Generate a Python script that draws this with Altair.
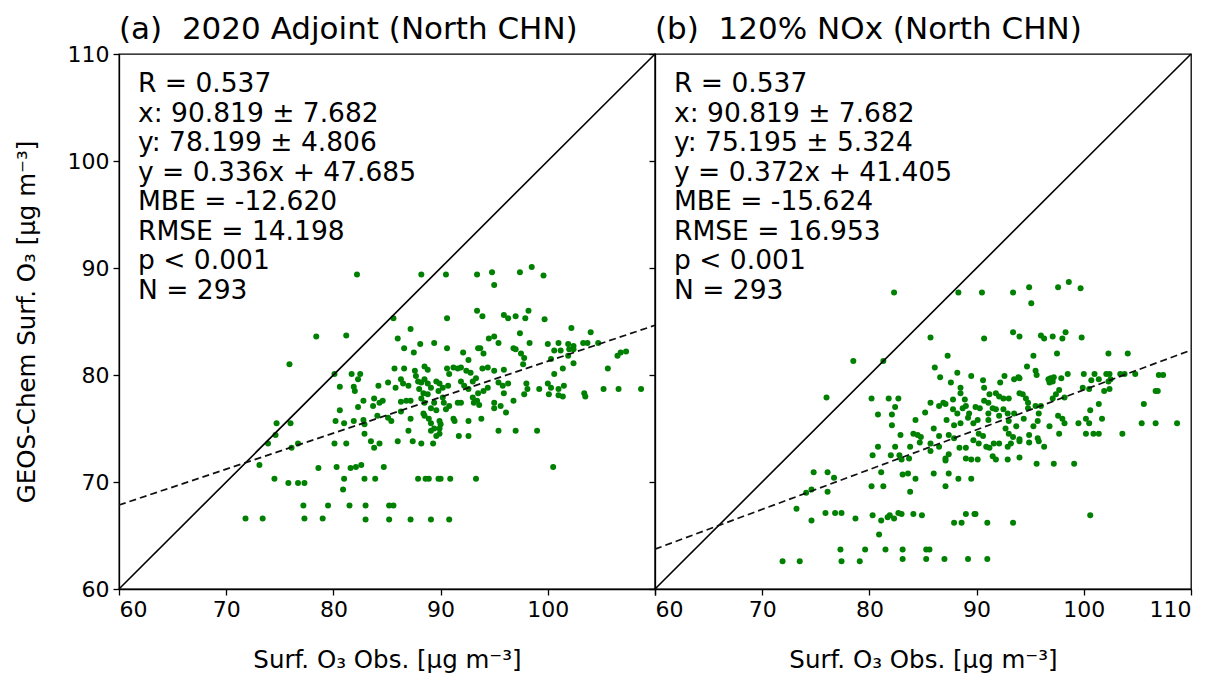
import altair as alt
import pandas as pd

FONT = "DejaVu Sans"

PTS_A = [
    (82.2, 89.4), (88.2, 89.4), (85.6, 85.3), (78.4, 83.6), (75.9, 81.0),
    (90.5, 89.4), (93.4, 89.4), (94.8, 89.6), (95.0, 88.4), (97.4, 89.6), (98.5, 90.1), (99.6, 89.3),
    (90.6, 85.3), (93.4, 86.0), (93.9, 85.5), (95.9, 85.6), (96.3, 85.3), (97.0, 85.5), (97.9, 85.3),
    (98.2, 86.0), (99.7, 85.2),
    (102.2, 84.4), (104.0, 84.0), (101.9, 82.9), (102.4, 82.7), (103.3, 83.0), (103.7, 83.0), (104.7, 83.0),
    (101.2, 82.3), (102.0, 82.4), (102.4, 82.4), (101.9, 81.8), (102.4, 81.1), (106.5, 81.8), (106.8, 82.1),
    (107.3, 82.2), (105.6, 80.6), (101.4, 80.6), (101.5, 79.0), (103.4, 78.3), (105.2, 78.7), (106.6, 78.7),
    (108.7, 78.7),
    (74.7, 75.5), (76.0, 75.5), (74.6, 74.4), (73.9, 73.6), (76.1, 73.2), (76.7, 73.6), (73.1, 71.6),
    (74.5, 70.3), (75.8, 69.9), (76.7, 69.9), (77.3, 69.9), (78.6, 71.3), (77.2, 67.8), (71.8, 66.6),
    (73.4, 66.6), (77.3, 66.6),
    (83.5, 73.8), (83.8, 73.2), (84.3, 73.6), (80.1, 73.6), (81.2, 73.6), (86.0, 73.8), (87.4, 73.8),
    (88.2, 73.6), (89.3, 73.6), (80.3, 71.4), (81.6, 71.3), (82.1, 71.4), (82.6, 71.6), (84.7, 71.4),
    (81.0, 70.3), (82.9, 70.3), (83.9, 70.3), (80.9, 69.3), (87.9, 70.3), (88.6, 70.3), (88.9, 70.3),
    (89.8, 70.3), (79.5, 67.8), (81.5, 67.8), (83.0, 67.8), (85.2, 67.8), (85.6, 67.8), (79.0, 66.6),
    (83.0, 66.5), (85.2, 66.5), (87.2, 66.5), (89.1, 66.5),
    (101.4, 78.0), (103.5, 78.0), (100.5, 71.4), (90.0, 70.3), (90.9, 70.3), (93.3, 70.3), (90.8, 66.5),
    (81.2, 83.7), (87.2, 84.3), (86.0, 83.4), (86.6, 82.5), (88.1, 82.9), (89.4, 83.0), (87.5, 82.1),
    (90.6, 82.5), (93.5, 82.5), (93.7, 82.5), (92.1, 82.1), (94.0, 82.0), (95.0, 83.6), (94.5, 83.4),
    (95.4, 83.0), (97.4, 83.9), (96.8, 82.5), (97.0, 82.4), (98.3, 83.0), (97.5, 82.0), (97.8, 81.6),
    (100.0, 82.9), (101.0, 83.0), (100.6, 82.3),
    (80.1, 80.1), (81.7, 80.1), (82.5, 80.1), (82.3, 79.6), (85.7, 80.6), (86.6, 80.6), (87.6, 80.4),
    (88.5, 80.8), (88.8, 80.5), (90.6, 80.6), (91.2, 80.7), (91.6, 80.6), (91.9, 80.7), (92.4, 80.4),
    (92.8, 80.2), (92.6, 81.4), (93.9, 80.6), (94.4, 80.7), (95.0, 80.4), (95.9, 80.5), (97.7, 81.0),
    (100.3, 81.5), (100.6, 80.1),
    (80.6, 78.9), (81.9, 78.9), (82.0, 78.5), (84.2, 79.0), (85.1, 79.3), (85.8, 78.8), (86.3, 79.6),
    (86.5, 79.2), (87.0, 79.0), (87.7, 79.9), (87.9, 79.4), (88.2, 79.3), (88.5, 79.6), (88.8, 79.2),
    (89.1, 78.8), (89.6, 79.4), (89.9, 79.2), (88.0, 78.7), (88.4, 78.3), (88.8, 78.2), (89.8, 78.5),
    (90.2, 78.8), (90.7, 79.0), (90.8, 80.1), (91.9, 79.4), (92.2, 79.0), (92.6, 78.7), (93.0, 79.4),
    (93.3, 79.7), (93.5, 78.3), (94.0, 78.5), (94.4, 78.8), (95.4, 79.3), (95.8, 79.0), (95.9, 78.3),
    (96.3, 79.2), (98.0, 79.2), (98.1, 78.7), (97.8, 78.2), (99.2, 78.7), (100.0, 79.2), (100.3, 78.8),
    (101.0, 78.7), (100.1, 78.2), (101.0, 78.1),
    (80.6, 76.7), (82.8, 77.6), (82.3, 77.0), (83.8, 77.8), (84.3, 77.4), (84.6, 77.6), (83.7, 77.1),
    (86.3, 77.5), (86.8, 77.6), (87.2, 77.6), (86.3, 76.6), (88.2, 77.8), (88.5, 77.4), (89.1, 76.9),
    (89.4, 77.4), (89.6, 76.7), (90.2, 77.9), (90.3, 77.4), (90.5, 76.8), (90.8, 77.1), (91.6, 77.4),
    (91.9, 77.4), (93.0, 77.9), (93.1, 77.4), (93.4, 77.6), (93.6, 77.2), (95.0, 77.4), (95.0, 76.9),
    (95.6, 77.1), (96.8, 77.6), (96.1, 76.5),
    (80.2, 75.7), (81.0, 75.5), (81.9, 75.7), (82.8, 75.8), (82.9, 75.4), (84.1, 76.2), (85.1, 76.0),
    (85.4, 75.7), (87.2, 75.9), (88.4, 76.4), (88.5, 76.2), (88.9, 75.9), (89.1, 75.5), (89.9, 75.7),
    (90.0, 75.4), (91.2, 75.9), (91.3, 75.7), (92.6, 75.7), (93.8, 75.9),
    (82.9, 74.5), (87.0, 74.8), (89.1, 74.8), (89.4, 75.0), (89.9, 75.0), (89.6, 74.3), (89.9, 74.5),
    (91.7, 74.3), (92.6, 74.3), (95.4, 74.8), (97.0, 74.8), (99.0, 74.8),
]

# Panel (b): 120% NOx run
PTS_B = [
    (82.3, 87.7), (88.3, 87.7), (85.7, 83.5), (87.3, 81.8), (78.5, 81.3), (81.3, 81.3), (86.1, 80.7),
    (88.2, 80.2), (86.6, 79.8), (89.5, 79.9), (87.6, 79.3), (88.5, 78.8), (88.5, 78.3), (76.0, 77.9),
    (80.2, 77.8), (81.8, 77.8), (82.7, 77.8), (82.4, 77.0), (80.8, 76.3), (82.1, 76.3), (82.1, 75.3),
    (84.3, 75.8), (85.2, 76.5), (85.7, 77.4), (86.5, 77.1), (86.9, 77.4), (87.1, 77.3), (87.8, 77.7),
    (88.9, 77.7), (88.7, 76.9), (88.2, 76.4), (89.3, 76.4), (89.2, 76.0), (87.2, 75.8), (86.0, 75.0),
    (87.9, 75.3), (88.5, 75.5), (89.7, 75.5), (82.9, 74.4), (84.1, 74.5), (84.5, 74.4), (84.8, 74.2),
    (86.5, 74.3), (87.4, 74.4), (87.8, 76.8), (89.0, 77.1),
    (90.5, 87.7), (93.4, 87.7), (94.9, 88.2), (95.1, 86.7), (97.6, 88.2), (98.6, 88.7), (99.7, 88.1),
    (90.7, 83.4), (93.4, 84.0), (94.0, 83.6), (96.0, 83.7), (96.3, 83.4), (97.1, 83.6), (98.0, 83.4),
    (98.3, 84.0), (99.8, 83.5), (102.3, 82.0), (104.1, 82.0), (97.5, 82.0), (95.3, 81.8), (94.7, 80.8),
    (95.5, 80.4), (95.6, 80.0), (92.6, 79.9), (90.6, 79.5), (92.2, 79.3), (93.5, 79.6), (93.9, 79.8),
    (94.0, 79.7), (90.7, 78.8), (91.2, 78.2), (91.8, 78.3), (92.1, 78.0), (92.5, 77.8), (93.0, 77.8),
    (94.0, 78.3), (94.3, 78.2), (94.6, 77.8), (94.8, 77.4), (96.7, 79.6), (96.9, 79.7), (97.2, 79.8),
    (97.9, 79.7), (96.8, 79.3), (97.1, 79.4), (97.7, 78.6), (97.4, 78.2), (98.5, 80.1), (100.0, 80.1),
    (100.7, 79.5), (101.0, 80.1), (101.4, 79.6), (102.1, 80.1), (102.4, 80.1), (102.5, 79.6), (102.3, 79.4),
    (103.4, 80.1), (103.8, 80.1), (104.8, 80.1), (107.0, 80.0), (107.4, 80.0), (106.7, 78.5), (106.9, 78.5),
    (99.9, 78.8), (100.5, 78.7), (102.4, 78.7), (101.9, 78.5), (98.2, 77.9), (101.4, 77.3), (100.6, 76.7),
    (105.6, 77.3), (89.9, 77.0), (90.3, 76.9), (91.5, 76.9), (91.8, 76.8), (92.5, 76.8), (94.8, 76.9),
    (95.5, 77.1), (96.0, 77.1), (93.5, 76.4), (92.9, 76.4), (92.1, 76.2), (91.1, 75.8), (90.1, 75.8),
    (93.0, 75.7), (94.4, 75.9), (95.7, 75.7), (97.6, 76.2), (98.0, 75.9), (98.2, 75.5), (99.5, 75.5),
    (100.2, 75.9), (100.5, 75.5), (101.7, 75.9), (105.4, 75.5), (106.7, 75.5), (108.7, 75.5), (93.7, 75.2),
    (95.3, 75.2), (96.8, 75.2), (90.2, 74.5), (90.6, 74.3), (93.0, 74.5), (93.4, 74.2), (94.0, 74.0),
    (94.9, 74.4), (95.7, 74.1), (97.7, 74.5), (100.2, 74.5), (100.9, 74.5), (101.4, 74.5), (103.6, 74.5),
    (90.7, 77.6), (91.1, 77.4), (91.1, 76.4), (92.7, 75.0), (95.8, 76.4), (97.1, 77.8),
    (80.8, 73.3), (82.4, 73.3), (83.8, 73.3), (84.7, 73.7), (86.5, 73.3), (80.3, 72.5), (82.0, 72.5),
    (82.8, 72.5), (83.0, 72.1), (83.7, 72.2), (87.1, 72.2), (87.4, 72.6), (87.1, 72.0), (88.4, 73.2),
    (89.0, 73.2), (89.0, 72.2), (89.5, 72.1), (74.8, 70.9), (76.1, 70.9), (76.7, 70.4), (74.1, 69.0),
    (74.6, 69.3), (76.1, 69.1), (73.2, 67.5), (74.6, 66.4), (75.9, 67.1), (76.8, 67.1), (77.4, 67.1),
    (78.7, 66.6), (80.3, 66.9), (81.1, 66.4), (80.9, 65.1), (81.7, 66.7), (81.9, 66.9), (82.3, 66.6),
    (82.7, 67.1), (83.0, 67.0), (84.1, 67.0), (84.9, 66.9), (81.1, 70.9), (80.2, 69.6), (81.3, 69.6),
    (83.1, 70.7), (83.6, 70.8), (83.8, 69.1), (84.3, 70.3), (86.0, 70.8), (87.1, 69.6), (87.4, 70.8),
    (88.3, 70.3), (89.5, 70.3), (87.9, 66.2), (88.6, 66.2), (89.0, 67.0), (89.8, 67.0), (77.3, 63.7),
    (79.6, 63.7), (81.5, 63.7), (83.1, 63.7), (85.3, 63.7), (85.6, 63.7), (71.9, 62.6), (73.5, 62.6),
    (77.4, 62.6), (79.1, 62.6), (83.1, 62.8), (85.3, 62.8), (87.0, 62.8), (89.2, 62.8),
    (85.7, 73.6), (87.9, 74.1), (89.7, 73.9), (85.7, 72.9),
    (90.2, 73.6), (90.9, 73.3), (91.2, 73.2), (91.6, 73.6), (92.1, 73.6), (92.9, 73.3), (93.2, 73.6),
    (94.0, 73.8), (94.9, 73.7), (95.8, 73.8), (96.3, 73.3), (90.1, 72.1), (91.5, 72.4), (91.8, 72.1),
    (92.9, 72.1), (94.0, 72.3), (95.6, 71.7), (97.2, 71.7), (99.1, 71.7), (89.9, 67.0), (91.0, 66.2),
    (93.4, 66.2), (100.6, 66.9), (91.0, 62.8),
]

STATS_A = ["R = 0.537", "x: 90.819 \u00b1 7.682", "y: 78.199 \u00b1 4.806", "y = 0.336x + 47.685",
           "MBE = -12.620", "RMSE = 14.198", "p < 0.001", "N = 293"]
STATS_B = ["R = 0.537", "x: 90.819 \u00b1 7.682", "y: 75.195 \u00b1 5.324", "y = 0.372x + 41.405",
           "MBE = -15.624", "RMSE = 16.953", "p < 0.001", "N = 293"]

TITLE_A = "(a)\u00a0 2020 Adjoint (North CHN)"
TITLE_B = "(b)\u00a0 120% NOx (North CHN)"
SLOPE_A, INTERCEPT_A = 0.336, 47.685
SLOPE_B, INTERCEPT_B = 0.372, 41.405
DOMAIN = [60, 110]
TICKS = [60, 70, 80, 90, 100, 110]
X_TITLE = "Surf. O\u2083 Obs. [\u03bcg m\u207b\u00b3]"
Y_TITLE = "GEOS-Chem Surf. O\u2083 [\u03bcg m\u207b\u00b3]"


def panel(points, stats, title, slope, intercept, left):
    df = pd.DataFrame(points, columns=["x", "y"])
    sc = alt.Scale(domain=DOMAIN, nice=False, zero=False)
    if left:
        xax = alt.Axis(values=TICKS, labelExpr="datum.value == 110 ? '' : datum.label")
        yax = alt.Axis(values=TICKS, titlePadding=28)
        ytitle = Y_TITLE
        title_offset = -3
    else:
        xax = alt.Axis(values=TICKS)
        yax = alt.Axis(values=TICKS, labels=False)
        ytitle = None
        title_offset = 5
    pts = alt.Chart(df).mark_circle(color="green", size=36, opacity=1).encode(
        x=alt.X("x:Q", scale=sc, axis=xax, title=X_TITLE),
        y=alt.Y("y:Q", scale=sc, axis=yax, title=ytitle),
    )
    ends = pd.DataFrame({"x": DOMAIN})
    one = alt.Chart(ends).mark_line(color="black", strokeWidth=1.6).encode(
        x="x:Q", y="x:Q")
    reg_df = pd.DataFrame({"x": DOMAIN, "y": [slope * v + intercept for v in DOMAIN]})
    reg = alt.Chart(reg_df).mark_line(color="#111111", strokeWidth=1.7, strokeDash=[7, 4]).encode(
        x="x:Q", y="y:Q")
    txt = alt.Chart(pd.DataFrame({"t": ["\n".join(stats)]})).mark_text(
        align="left", baseline="top", font=FONT, fontSize=26.5, lineBreak="\n",
        lineHeight=29.5, color="black").encode(
        x=alt.value(19), y=alt.value(17), text="t:N")
    return alt.layer(pts, one, reg, txt).properties(
        width=536, height=535,
        title=alt.TitleParams(title, anchor="start", frame="group", font=FONT, fontSize=31,
                              fontWeight="normal", offset=title_offset, color="black"),
    )


a = panel(PTS_A, STATS_A, TITLE_A, SLOPE_A, INTERCEPT_A, True)
b = panel(PTS_B, STATS_B, TITLE_B, SLOPE_B, INTERCEPT_B, False)

chart = alt.hconcat(a, b, spacing=0, bounds="flush").configure_view(
    stroke="black", strokeWidth=1.3
).configure_axis(
    grid=False, domainColor="black", domainWidth=1.3, tickColor="black", tickWidth=1.3,
    tickSize=6, labelFont=FONT, labelFontSize=22, labelColor="black", labelPadding=4,
    titleFont=FONT, titleFontSize=24.5, titleFontWeight="normal", titleColor="black",
).configure_axisX(titlePadding=28).properties(padding={"left": 5, "top": 5, "right": 5, "bottom": 5})

chart.save("out.html", embed_options={"renderer": "svg", "actions": False})
